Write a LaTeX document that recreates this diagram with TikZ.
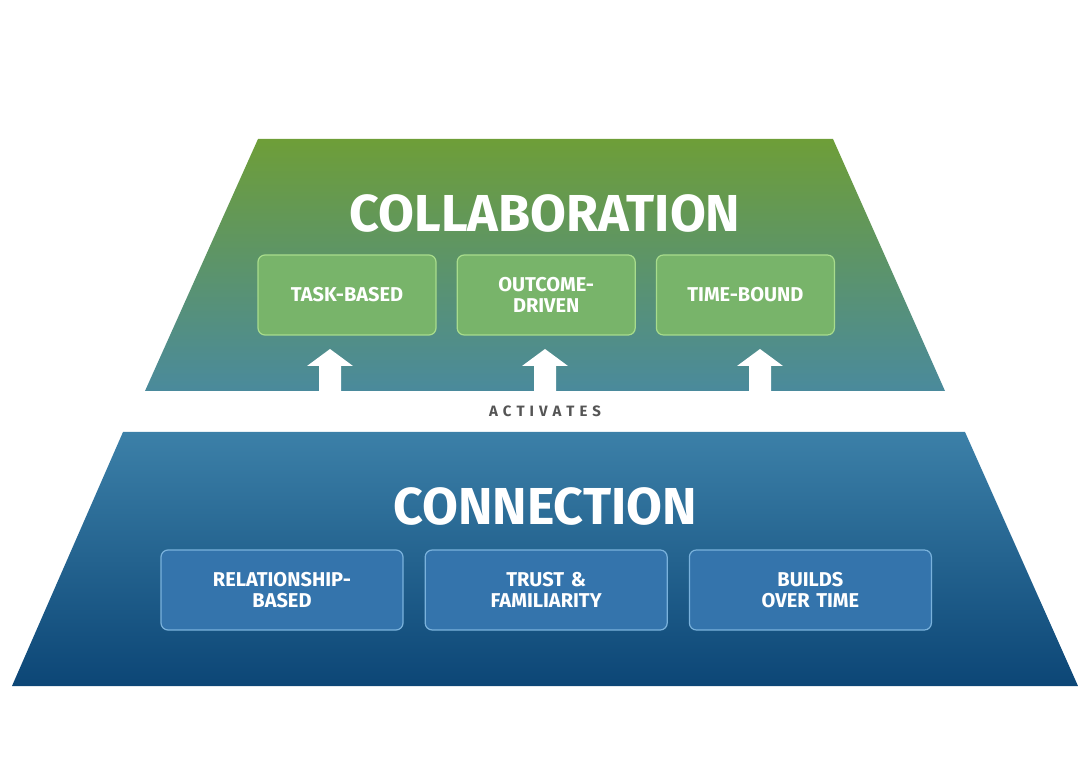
\documentclass[tikz,border=0pt]{standalone}
\usepackage{fontspec}
\setmainfont{Fira Sans}
\usetikzlibrary{positioning}
\definecolor{collabtop}{HTML}{6E9E38}
\definecolor{collabbot}{HTML}{4A8A9C}
\definecolor{conntop}{HTML}{3C80A8}
\definecolor{connbot}{HTML}{0C4676}
\definecolor{gbox}{HTML}{78B46A}
\definecolor{gline}{HTML}{A8DC8C}
\definecolor{bbox}{HTML}{3474AC}
\definecolor{bline}{HTML}{7AB2DC}
\definecolor{acttext}{HTML}{555555}
\tikzset{
  trait/.style = {rounded corners=7pt, minimum width=178pt, minimum height=80pt,
    text width=165pt, align=center, text=white, line width=1.2pt,
    font=\fontsize{20}{21}\selectfont\bfseries},
  gtrait/.style = {trait, fill=gbox, draw=gline},
  btrait/.style = {trait, fill=bbox, draw=bline, minimum width=242pt},
  title/.style = {text=white, font=\fontsize{52}{52}\selectfont\bfseries}
}
\begin{document}
\begin{tikzpicture}[x=1pt,y=-1pt]
  \useasboundingbox (0,0) rectangle (1090,783);

  % draw the two layers
  \shade[top color=collabtop, bottom color=collabbot] (258,139) -- (833,139) -- (945,391) -- (145,391) -- cycle;
  \shade[top color=conntop, bottom color=connbot] (123,432) -- (965,432) -- (1078,686) -- (12,686) -- cycle;

  % titles
  \node[title] (collab) at (545,213) {COLLABORATION};
  \node[title] (conn) at (545,506) {CONNECTION};

  % upper traits
  \node[gtrait] (task) at (347,295) {TASK-BASED};
  \node[gtrait, right=20pt of task] (outcome) {OUTCOME-\\DRIVEN};
  \node[gtrait, right=20pt of outcome] (time) {TIME-BOUND};

  % lower traits
  \node[btrait] (rel) at (282,590) {RELATIONSHIP-\\BASED};
  \node[btrait, right=21pt of rel] (trust) {TRUST \&\\FAMILIARITY};
  \node[btrait, right=21pt of trust] (builds) {BUILDS\\OVER TIME};

  % draw the arrows
  \foreach \x in {330,545,760}
    \fill[white] (\x-11,392) -- (\x-11,366) -- (\x-23,366) -- (\x,349) -- (\x+23,366) -- (\x+11,366) -- (\x+11,392) -- cycle;

  \node[text=acttext, font=\fontsize{15}{15}\selectfont\bfseries] (act) at (545,411)
    {A\hspace{5pt}C\hspace{5pt}T\hspace{5pt}I\hspace{5pt}V\hspace{5pt}A\hspace{5pt}T\hspace{5pt}E\hspace{5pt}S};
\end{tikzpicture}
\end{document}
